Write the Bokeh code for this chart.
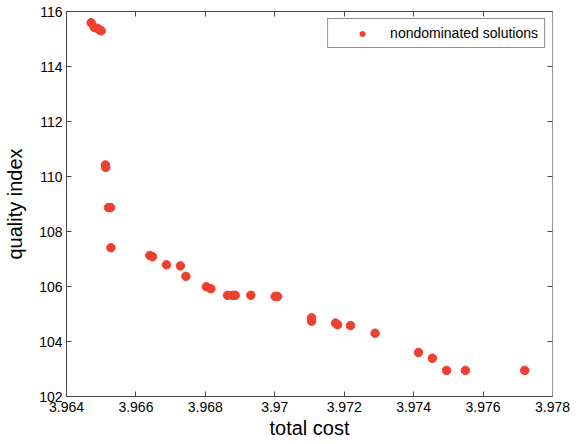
from bokeh.plotting import figure
from bokeh.models import LinearAxis, FixedTicker, Range1d
from bokeh.embed import file_html
from bokeh.resources import INLINE

total_cost = [3.96471, 3.96480, 3.96490, 3.96495, 3.96500,
              3.96512, 3.96513, 3.96521, 3.96527, 3.96528,
              3.96640, 3.96648, 3.96688, 3.96728, 3.96744,
              3.96803, 3.96816, 3.96864, 3.96878, 3.96886, 3.96931,
              3.97001, 3.97008, 3.97106, 3.97106, 3.97175, 3.97181,
              3.97218, 3.97289, 3.97414, 3.97454, 3.97495, 3.97549, 3.97720]
quality = [115.59, 115.42, 115.38, 115.33, 115.30,
           110.42, 110.33, 108.87, 108.87, 107.41,
           107.13, 107.08, 106.79, 106.75, 106.37,
           105.99, 105.92, 105.68, 105.68, 105.68, 105.68,
           105.64, 105.64, 104.86, 104.74, 104.67, 104.61,
           104.58, 104.30, 103.60, 103.39, 102.95, 102.95, 102.95]

x_ticks = [3.964, 3.966, 3.968, 3.970, 3.972, 3.974, 3.976, 3.978]
x_tick_labels = ["3.964", "3.966", "3.968", "3.97", "3.972", "3.974", "3.976", "3.978"]
y_ticks = [102, 104, 106, 108, 110, 112, 114, 116]

FONT = "Liberation Sans"

p = figure(output_backend="svg", toolbar_location=None,
           frame_width=486, frame_height=385,
           min_border_left=66, min_border_right=22,
           min_border_top=11, min_border_bottom=42,
           x_range=Range1d(3.964, 3.978), y_range=Range1d(102, 116),
           x_axis_label="total cost", y_axis_label="quality index")

p.grid.visible = False
p.outline_line_color = "#333333"
p.background_fill_color = "white"
p.border_fill_color = "white"

p.xaxis.ticker = FixedTicker(ticks=x_ticks)
p.xaxis.major_label_overrides = {t: l for t, l in zip(x_ticks, x_tick_labels)}
p.yaxis.ticker = FixedTicker(ticks=y_ticks)

for ax in [p.xaxis[0], p.yaxis[0]]:
    ax.major_tick_in = 5
    ax.major_tick_out = 0
    ax.minor_tick_line_color = None
    ax.axis_line_color = "#444444"
    ax.major_tick_line_color = "#444444"
    ax.major_label_text_font = FONT
    ax.major_label_text_font_size = "14px"
    ax.major_label_text_color = "black"
    ax.axis_label_text_font = FONT
    ax.axis_label_text_font_size = "20px"
    ax.axis_label_text_font_style = "normal"
    ax.axis_label_text_color = "black"

p.xaxis.major_label_standoff = 5
p.xaxis.axis_label_standoff = 2
p.yaxis.major_label_standoff = 4
p.yaxis.axis_label_standoff = 10

top = LinearAxis(ticker=FixedTicker(ticks=x_ticks),
                 major_label_overrides={t: "" for t in x_ticks},
                 major_tick_in=5, major_tick_out=0, minor_tick_line_color=None,
                 axis_line_color="#444444", major_tick_line_color="#444444")
right = LinearAxis(ticker=FixedTicker(ticks=y_ticks),
                   major_label_overrides={t: "" for t in y_ticks},
                   major_tick_in=5, major_tick_out=0, minor_tick_line_color=None,
                   axis_line_color="#999999", major_tick_line_color="#444444")
p.add_layout(top, "above")
p.add_layout(right, "right")

p.scatter(total_cost, quality, size=8.5, color="#EE4030", line_color="#EE4030",
          legend_label="nondominated solutions")

lg = p.legend[0]
lg.location = "top_right"
lg.margin = 7
lg.padding = 6
lg.spacing = 0
lg.glyph_width = 56
lg.glyph_height = 13
lg.label_height = 13
lg.label_standoff = 0
lg.label_text_font = FONT
lg.label_text_font_size = "14px"
lg.label_text_color = "black"
lg.border_line_color = "#222222"
lg.border_line_width = 1
lg.background_fill_alpha = 1

open("out.html", "w").write(file_html(p, INLINE))
